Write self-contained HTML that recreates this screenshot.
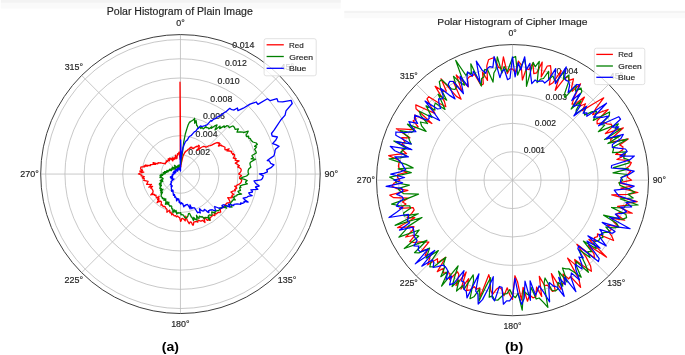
<!DOCTYPE html>
<html><head><meta charset="utf-8"><style>
html,body{margin:0;padding:0;background:#fff;}
svg{display:block;font-family:"Liberation Sans",sans-serif;filter:blur(0.3px);}
text{stroke:#262626;stroke-width:0.18px;}
text[font-weight="bold"]{stroke:none;}
</style></head><body>
<svg width="685" height="355" viewBox="0 0 685 355">
<defs><linearGradient id="g1" x1="0" y1="0" x2="0" y2="1"><stop offset="0" stop-color="#f0f0f0"/><stop offset="1" stop-color="#fdfdfd"/></linearGradient></defs>
<rect x="0.8" y="0" width="340" height="2.9" fill="#f3f3f3"/><rect x="0.8" y="2.9" width="340" height="5.6" fill="#fafafa"/>
<rect x="344.3" y="10.8" width="341" height="2.2" fill="#f3f3f3"/><rect x="344.3" y="13" width="341" height="5.3" fill="#fafafa"/>
<ellipse cx="180.45" cy="174.05" rx="19.25" ry="19.21" fill="none" stroke="#bababa" stroke-width="0.8"/>
<ellipse cx="180.45" cy="174.05" rx="38.50" ry="38.42" fill="none" stroke="#bababa" stroke-width="0.8"/>
<ellipse cx="180.45" cy="174.05" rx="57.75" ry="57.63" fill="none" stroke="#bababa" stroke-width="0.8"/>
<ellipse cx="180.45" cy="174.05" rx="77.00" ry="76.85" fill="none" stroke="#bababa" stroke-width="0.8"/>
<ellipse cx="180.45" cy="174.05" rx="96.25" ry="96.06" fill="none" stroke="#bababa" stroke-width="0.8"/>
<ellipse cx="180.45" cy="174.05" rx="115.50" ry="115.27" fill="none" stroke="#bababa" stroke-width="0.8"/>
<ellipse cx="180.45" cy="174.05" rx="134.75" ry="134.48" fill="none" stroke="#bababa" stroke-width="0.8"/>
<line x1="180.45" y1="174.05" x2="180.45" y2="34.58" stroke="#bababa" stroke-width="0.8"/>
<line x1="180.45" y1="174.05" x2="279.27" y2="75.43" stroke="#bababa" stroke-width="0.8"/>
<line x1="180.45" y1="174.05" x2="320.20" y2="174.05" stroke="#bababa" stroke-width="0.8"/>
<line x1="180.45" y1="174.05" x2="279.27" y2="272.67" stroke="#bababa" stroke-width="0.8"/>
<line x1="180.45" y1="174.05" x2="180.45" y2="313.52" stroke="#bababa" stroke-width="0.8"/>
<line x1="180.45" y1="174.05" x2="81.63" y2="272.67" stroke="#bababa" stroke-width="0.8"/>
<line x1="180.45" y1="174.05" x2="40.70" y2="174.05" stroke="#bababa" stroke-width="0.8"/>
<line x1="180.45" y1="174.05" x2="81.63" y2="75.43" stroke="#bababa" stroke-width="0.8"/>
<text x="176.30" y="26.09" font-size="8.50" font-weight="normal" fill="#262626" textLength="8.49" lengthAdjust="spacingAndGlyphs">0&#176;</text>
<text x="280.60" y="70.20" font-size="8.50" font-weight="normal" fill="#262626" textLength="13.44" lengthAdjust="spacingAndGlyphs">45&#176;</text>
<text x="324.64" y="176.69" font-size="8.50" font-weight="normal" fill="#262626" textLength="13.55" lengthAdjust="spacingAndGlyphs">90&#176;</text>
<text x="277.88" y="283.18" font-size="8.50" font-weight="normal" fill="#262626" textLength="18.41" lengthAdjust="spacingAndGlyphs">135&#176;</text>
<text x="171.17" y="327.29" font-size="8.50" font-weight="normal" fill="#262626" textLength="18.41" lengthAdjust="spacingAndGlyphs">180&#176;</text>
<text x="64.56" y="283.18" font-size="8.50" font-weight="normal" fill="#262626" textLength="18.47" lengthAdjust="spacingAndGlyphs">225&#176;</text>
<text x="20.36" y="176.69" font-size="8.50" font-weight="normal" fill="#262626" textLength="18.47" lengthAdjust="spacingAndGlyphs">270&#176;</text>
<text x="64.68" y="70.20" font-size="8.50" font-weight="normal" fill="#262626" textLength="18.33" lengthAdjust="spacingAndGlyphs">315&#176;</text>
<text x="188.18" y="154.90" font-size="8.50" font-weight="normal" fill="#262626" textLength="21.83" lengthAdjust="spacingAndGlyphs">0.002</text>
<text x="195.54" y="137.15" font-size="8.50" font-weight="normal" fill="#262626" textLength="22.00" lengthAdjust="spacingAndGlyphs">0.004</text>
<text x="202.91" y="119.40" font-size="8.50" font-weight="normal" fill="#262626" textLength="22.07" lengthAdjust="spacingAndGlyphs">0.006</text>
<text x="210.27" y="101.65" font-size="8.50" font-weight="normal" fill="#262626" textLength="22.02" lengthAdjust="spacingAndGlyphs">0.008</text>
<text x="217.64" y="83.90" font-size="8.50" font-weight="normal" fill="#262626" textLength="21.99" lengthAdjust="spacingAndGlyphs">0.010</text>
<text x="225.01" y="66.16" font-size="8.50" font-weight="normal" fill="#262626" textLength="21.83" lengthAdjust="spacingAndGlyphs">0.012</text>
<text x="232.37" y="48.41" font-size="8.50" font-weight="normal" fill="#262626" textLength="22.00" lengthAdjust="spacingAndGlyphs">0.014</text>
<polyline points="180.3,160.0 180.0,82.2 180.8,167.0 181.1,164.3 181.4,162.7 181.8,161.4 182.7,157.3 183.4,155.0 183.9,153.9 184.0,154.1 185.0,152.0 185.3,152.1 185.7,151.4 186.4,150.9 187.1,150.7 188.1,149.3 188.7,149.2 189.9,148.0 190.5,147.3 190.6,148.0 191.8,147.1 192.0,148.1 192.7,148.4 193.3,148.0 193.4,148.6 194.8,147.4 196.2,146.5 196.5,146.3 196.9,146.9 198.8,145.3 199.3,146.0 199.0,147.3 197.2,150.4 198.7,149.5 201.1,147.5 203.2,146.5 204.3,146.5 205.3,146.7 206.0,147.3 208.8,145.8 210.3,145.7 211.6,145.1 214.4,143.7 217.1,142.5 217.3,143.0 219.0,142.5 218.9,144.1 220.1,143.7 218.4,146.0 221.5,145.2 221.5,145.8 222.5,146.0 223.6,146.5 225.0,147.3 224.9,148.9 225.0,149.6 225.6,149.9 229.2,148.8 226.9,150.9 229.3,151.0 231.8,151.3 231.3,153.0 233.4,153.6 232.6,154.7 234.6,154.7 234.3,156.4 233.2,158.0 236.1,158.6 235.1,159.8 235.2,160.3 237.7,160.6 239.1,160.9 235.3,163.1 236.8,164.0 238.8,165.4 239.4,165.7 237.7,167.0 240.1,168.1 241.1,169.1 241.1,169.5 241.1,171.0 240.2,172.5 238.7,174.0 241.5,175.5 241.3,175.9 239.8,176.9 239.6,178.5 241.7,180.0 241.3,181.8 240.7,182.9 238.8,184.4 237.0,185.2 236.3,186.1 234.7,186.2 236.8,188.1 235.3,189.1 234.6,189.4 235.4,190.6 232.9,191.1 230.9,192.0 233.7,194.5 231.9,195.3 232.8,197.2 231.2,197.0 231.2,197.9 227.7,197.7 229.5,200.4 230.1,202.0 228.8,202.9 227.0,203.0 225.8,204.2 225.5,205.6 224.5,205.5 224.4,206.5 223.8,207.7 221.9,207.2 221.9,207.9 220.8,208.6 220.2,209.7 220.7,212.2 218.5,212.3 217.5,212.8 216.6,213.8 213.9,212.6 215.1,214.8 214.7,215.6 212.5,214.9 211.8,216.5 210.9,217.0 210.0,218.0 210.0,220.4 208.4,219.0 208.3,220.2 207.3,220.3 206.0,218.9 203.8,217.5 204.3,219.5 205.0,222.5 202.5,220.3 201.2,221.1 200.1,221.0 198.4,220.1 198.1,220.3 197.8,222.1 196.2,221.3 195.0,221.9 193.8,221.8 193.4,225.0 192.6,225.0 191.5,222.4 190.3,221.9 189.2,223.7 187.2,220.3 185.8,216.2 185.2,220.8 184.1,219.5 182.8,218.5 181.7,218.7 181.0,221.1 180.6,221.4 179.5,217.3 178.7,217.2 177.5,216.1 176.4,216.9 175.6,215.7 174.4,215.9 173.5,215.1 172.7,213.8 171.7,214.9 171.6,214.2 171.0,212.3 169.9,212.8 169.6,210.2 168.6,211.0 166.9,212.2 167.0,209.4 166.3,208.6 165.5,207.9 165.1,206.7 164.3,206.4 163.2,206.5 162.6,205.7 162.4,204.8 160.9,205.1 161.4,202.7 161.2,201.5 160.5,201.1 159.3,201.7 159.5,201.0 157.1,202.6 159.2,198.8 157.5,199.5 159.2,196.5 156.7,197.9 156.2,197.1 156.0,196.3 156.0,195.2 154.7,195.3 154.5,194.3 152.8,194.7 153.1,194.0 150.8,195.0 152.8,192.6 153.1,191.5 152.9,190.6 152.6,189.9 152.3,189.3 151.7,188.7 150.8,188.1 152.6,186.4 148.8,187.2 149.6,186.5 150.5,185.6 151.5,184.4 150.0,184.7 148.9,184.4 146.6,184.3 147.3,183.2 147.5,182.3 148.1,181.3 146.1,180.9 143.7,180.4 144.0,179.5 144.3,178.5 142.6,178.1 142.3,177.8 144.3,176.7 141.2,175.9 141.2,175.3 141.7,175.0 138.4,174.0 139.7,173.2 143.8,172.2 139.7,171.1 142.6,170.3 140.5,169.0 140.8,168.1 140.8,167.1 141.9,166.8 144.7,166.8 144.0,165.8 147.5,166.1 145.3,165.1 150.5,165.7 150.3,164.7 152.3,164.6 153.1,164.0 155.6,164.4 153.1,162.6 157.8,163.9 157.5,163.3 158.1,163.4 158.1,162.7 160.2,163.1 160.2,162.6 162.7,163.3 163.7,163.3 165.4,163.8 165.2,163.2 165.6,162.8 165.8,162.6 166.2,162.7 166.1,162.1 166.7,162.0 166.2,160.9 167.4,161.4 167.6,161.0 167.9,160.5 168.5,160.6 169.3,160.9 168.2,158.9 169.7,160.0 169.6,159.2 169.3,158.4 169.4,158.2 170.1,158.3 171.3,159.4 171.4,159.1 172.7,160.9 171.8,158.4 172.3,158.4 173.5,159.9 172.8,157.6 173.9,158.9 174.5,159.2 174.2,158.1 174.3,157.8 174.8,157.8 175.0,157.2 176.0,158.9 175.4,155.1 176.4,157.4 177.0,158.2 177.1,156.3 177.4,155.3 177.4,154.3 177.6,153.7 178.2,154.2 178.5,153.5 179.1,152.1 179.7,156.5 180.3,160.0" fill="none" stroke="red" stroke-width="1.30" stroke-linejoin="round"/>
<polyline points="180.6,165.0 180.9,163.0 181.3,160.0 181.9,156.0 182.8,150.1 183.7,142.2 185.3,134.0 187.0,128.4 188.1,125.0 189.6,122.0 190.5,121.9 191.1,121.1 192.6,120.5 194.0,119.1 194.6,118.3 194.7,123.3 196.1,120.5 196.3,122.2 196.7,125.4 197.5,126.1 198.2,128.2 200.1,127.0 200.8,128.5 201.8,127.5 202.4,127.9 203.2,128.9 206.0,126.5 206.0,127.5 206.9,127.6 208.2,127.9 208.8,128.9 211.6,126.8 211.1,128.4 214.3,126.2 217.0,124.9 215.8,128.1 215.0,129.9 220.1,126.1 219.7,128.6 224.2,125.9 224.3,127.5 227.0,125.6 228.4,126.0 229.2,127.7 232.6,126.0 233.3,126.2 234.5,127.5 235.1,129.4 238.4,128.9 237.7,130.2 237.0,132.2 240.3,131.9 243.2,132.2 243.5,132.7 248.2,131.2 247.0,133.6 246.0,134.8 246.5,136.7 248.7,136.1 248.4,137.8 250.4,138.7 251.3,140.6 252.9,142.0 256.3,143.0 257.3,144.4 254.6,146.3 256.6,146.8 254.6,149.5 255.8,151.2 256.3,153.0 252.0,155.5 252.0,156.1 253.3,157.7 251.2,158.9 255.5,159.1 250.4,162.3 249.9,163.7 250.4,165.7 250.9,167.1 248.7,169.1 248.1,170.7 248.1,172.5 248.7,174.0 246.6,176.0 243.0,177.1 240.5,178.4 244.7,179.3 247.2,180.6 245.6,182.0 245.6,182.7 247.3,183.9 242.8,184.8 242.2,185.2 240.0,185.8 240.9,187.5 239.6,187.7 239.9,188.9 240.5,190.3 238.0,191.4 238.8,192.8 241.6,194.1 237.1,194.6 236.9,195.7 234.6,196.4 234.6,197.0 233.2,197.3 235.3,199.9 233.7,199.5 232.8,200.3 232.0,201.3 230.9,202.5 230.4,203.8 231.8,206.4 232.0,207.2 228.7,206.3 225.3,205.5 225.2,206.3 226.6,208.1 222.4,206.6 221.9,208.0 219.9,207.9 219.6,209.4 218.9,210.4 218.5,210.6 217.2,210.6 215.9,211.1 214.9,211.8 215.1,213.1 213.7,212.3 211.7,212.0 212.0,214.3 211.8,214.8 211.3,215.4 209.7,214.9 208.4,215.5 209.9,220.2 207.4,217.2 206.8,217.7 205.0,217.3 204.3,218.8 202.0,216.5 201.2,217.2 199.3,216.2 199.0,218.4 198.1,218.0 196.5,215.3 197.1,220.1 195.5,219.0 195.0,219.5 193.8,217.4 193.4,220.4 191.9,217.2 191.4,217.1 189.5,213.3 188.5,213.7 187.9,216.1 187.2,217.2 186.0,218.0 184.9,217.8 184.1,216.4 183.6,215.2 182.6,214.9 181.6,214.4 181.0,214.9 180.6,212.6 179.6,213.0 178.7,213.1 177.9,212.6 176.7,214.1 176.1,210.5 175.0,212.0 174.8,211.0 174.4,209.9 172.9,212.8 172.8,208.9 171.9,208.9 171.7,207.9 171.7,206.2 171.0,205.8 169.9,206.5 169.5,205.1 168.6,204.8 168.9,202.2 167.1,204.4 167.5,201.8 165.4,204.3 166.1,201.1 165.5,200.9 165.8,198.8 163.9,200.4 164.2,198.5 163.3,198.5 162.4,198.6 162.4,197.3 161.7,197.0 161.2,196.5 161.1,195.5 161.6,194.0 162.5,192.1 160.9,192.9 161.1,191.7 163.0,189.2 160.4,190.6 161.2,189.0 161.3,188.3 159.9,188.6 160.0,187.8 160.3,186.9 161.4,185.5 159.9,185.7 160.2,185.0 161.2,183.8 159.3,184.1 160.0,183.1 162.9,181.3 160.9,181.6 162.6,180.5 160.2,180.7 161.6,180.0 160.8,180.0 163.1,178.9 163.0,178.4 162.3,178.1 162.2,177.7 159.9,177.6 160.4,177.0 161.3,176.4 160.0,176.0 162.7,175.3 160.2,175.3 160.5,175.0 161.6,174.6 161.1,174.5 164.1,174.0 164.4,173.9 165.3,173.6 164.3,173.2 163.1,172.7 165.2,172.5 166.8,172.3 164.5,171.6 168.2,171.8 166.6,171.2 167.7,171.1 166.8,170.5 169.0,170.8 168.6,170.4 168.8,170.1 171.1,170.6 171.7,170.6 170.7,169.9 169.8,169.2 171.4,169.6 171.5,169.4 172.0,169.4 171.5,168.8 172.0,168.8 172.3,168.8 173.5,169.2 172.2,168.1 172.3,167.8 174.3,169.1 172.2,167.1 173.5,167.9 174.5,168.5 174.3,168.2 175.5,169.2 174.2,167.6 174.4,167.5 175.3,168.1 176.1,168.8 174.7,166.8 175.8,167.8 175.9,167.6 174.5,165.3 175.1,165.7 175.8,166.4 176.6,167.3 176.3,166.5 177.7,168.5 177.0,166.8 177.1,166.8 177.4,167.3 177.8,167.6 178.0,167.7 177.5,166.0 177.8,166.2 178.0,166.1 178.0,165.4 178.6,166.7 178.8,166.9 179.1,167.3 179.0,166.0 179.0,165.0 179.4,165.7 179.5,165.0 179.9,166.4 179.9,165.4 180.0,165.8 180.2,165.9 180.4,166.2" fill="none" stroke="green" stroke-width="1.30" stroke-linejoin="round"/>
<polyline points="180.5,171.0 180.6,140.0 181.0,158.8 181.6,154.1 182.3,151.1 183.0,147.5 183.2,147.3 184.2,144.5 185.3,141.9 186.4,140.6 187.4,139.9 188.7,137.4 190.1,136.0 190.9,135.7 191.2,135.5 192.8,133.6 194.3,131.8 195.9,131.2 197.7,128.4 198.1,128.5 200.5,125.9 201.0,126.1 201.7,126.4 203.2,126.1 204.9,125.7 206.9,124.8 207.4,124.7 211.0,120.4 211.6,121.2 213.4,119.4 215.8,118.4 217.3,117.0 219.2,116.2 221.5,114.9 223.6,113.0 225.7,111.9 229.8,108.3 231.1,109.3 233.2,110.0 234.2,109.9 237.5,108.0 237.9,110.7 241.2,109.2 243.3,108.2 250.0,104.1 254.5,102.6 256.2,102.0 257.9,104.4 267.4,98.8 270.2,100.7 277.0,98.7 278.1,101.7 282.6,101.8 291.1,100.3 292.2,103.5 286.0,110.8 285.1,115.1 280.8,120.0 277.4,125.1 274.1,130.2 271.5,133.5 272.2,136.0 277.4,137.0 275.7,140.3 274.0,142.0 272.6,143.6 275.7,144.6 279.1,146.3 275.7,148.9 275.0,150.4 274.9,152.2 274.0,155.7 270.6,158.1 267.3,160.6 269.3,160.8 270.6,163.3 274.0,164.8 271.5,167.3 266.7,169.8 267.3,170.8 267.4,171.9 263.9,173.3 259.5,174.0 263.3,175.9 262.5,178.4 260.7,179.9 254.0,180.9 255.7,183.5 259.0,185.6 259.1,186.1 255.5,187.0 255.7,187.6 257.8,189.3 250.8,189.8 252.3,191.1 252.5,192.0 248.7,192.8 249.8,194.5 252.1,195.7 248.0,196.3 247.4,197.0 246.3,197.5 243.1,198.1 245.6,200.4 248.1,202.1 243.9,201.3 244.4,202.3 242.5,203.3 240.6,203.0 240.9,204.3 237.1,203.8 234.0,204.3 233.7,205.5 230.3,204.6 228.4,204.2 230.1,207.1 227.0,206.2 224.2,204.7 222.6,205.1 221.9,205.5 223.6,207.2 221.8,207.8 220.6,208.5 218.5,208.0 214.7,206.5 215.1,208.9 215.5,210.6 213.6,210.4 211.8,209.7 211.7,210.0 209.9,209.8 209.4,210.8 208.4,210.6 208.5,211.6 208.9,212.7 207.3,211.9 205.8,210.2 204.3,209.4 204.0,210.9 202.7,211.0 201.2,210.3 199.6,208.7 199.5,209.3 200.3,213.0 198.7,212.2 197.8,212.8 196.5,211.0 194.7,208.0 193.6,207.8 192.6,207.6 191.9,208.7 190.0,204.9 190.2,208.8 188.8,206.4 187.4,204.4 186.7,204.6 185.9,204.6 185.7,205.6 185.2,205.3 184.5,205.6 183.8,206.9 182.6,203.3 182.1,203.9 181.3,202.6 180.6,204.1 179.9,202.2 179.5,200.9 179.2,202.5 178.8,199.0 178.1,199.7 177.6,198.5 176.6,200.9 176.4,198.6 175.9,197.6 175.5,196.8 174.8,197.3 174.7,195.3 174.4,194.4 173.5,195.4 173.3,194.0 173.2,193.2 173.0,192.3 173.1,191.0 172.9,190.2 171.8,191.4 171.5,191.1 171.8,189.6 171.7,189.3 171.4,189.3 171.4,188.5 171.3,187.9 171.4,187.3 172.3,185.9 171.5,186.3 171.0,186.3 171.4,185.2 171.1,185.0 171.3,184.3 170.7,184.4 170.3,184.3 171.4,182.8 171.4,182.3 171.0,182.3 171.4,181.5 171.0,181.5 174.0,178.9 172.8,179.5 173.1,179.0 172.6,179.1 172.0,179.2 171.7,179.0 171.6,178.8 172.3,178.2 171.1,178.5 172.5,177.6 172.3,177.4 171.6,177.5 172.6,176.9 170.4,177.4 172.1,176.7 171.3,176.8 170.4,176.8 172.3,176.1 172.6,175.8 172.3,175.7 171.9,175.5 173.0,175.1 172.3,175.0 172.7,174.8 172.8,174.6 173.5,174.3 172.3,174.2 173.8,174.0 174.3,173.8 174.2,173.7 174.8,173.6 173.9,173.3 174.3,173.2 174.2,173.0 173.8,172.8 173.1,172.5 174.2,172.6 174.3,172.4 174.7,172.4 175.7,172.5 174.0,171.8 175.9,172.3 174.2,171.5 174.8,171.6 174.0,171.1 174.9,171.3 175.5,171.4 175.0,171.1 174.8,170.9 175.5,171.1 175.4,170.9 175.4,170.7 175.6,170.7 175.7,170.6 176.2,170.8 176.0,170.4 177.2,171.2 176.2,170.2 176.9,170.6 175.8,169.4 175.9,169.3 177.6,170.9 176.7,169.7 177.0,169.8 177.5,170.2 177.1,169.6 176.9,169.3 177.4,169.7 178.1,170.4 177.5,169.4 177.6,169.2 177.6,168.9 178.1,169.7 177.6,168.4 177.7,168.2 178.4,169.3 178.3,168.9 178.3,168.4 178.5,168.6 178.5,168.2 178.7,168.2 179.2,169.3 179.3,169.3 179.3,169.0 179.2,167.6 179.7,169.5 179.8,169.6 179.9,169.5 180.1,170.2 180.1,169.0 180.4,171.0 180.5,171.0 180.1,155.4" fill="none" stroke="blue" stroke-width="1.30" stroke-linejoin="round"/>
<ellipse cx="180.45" cy="174.05" rx="139.75" ry="139.47" fill="none" stroke="#3c3c3c" stroke-width="1.0"/>
<rect x="264.1" y="38.7" width="52.1" height="37.1" rx="2" ry="2" fill="#fff" fill-opacity="0.8" stroke="#d9d9d9" stroke-width="0.8"/>
<line x1="266.6" y1="44.8" x2="283.8" y2="44.8" stroke="red" stroke-width="1.3"/>
<text x="289.04" y="47.80" font-size="8.05" font-weight="normal" fill="#262626" textLength="14.69" lengthAdjust="spacingAndGlyphs">Red</text>
<line x1="266.6" y1="56.5" x2="283.8" y2="56.5" stroke="green" stroke-width="1.3"/>
<text x="289.27" y="59.50" font-size="8.05" font-weight="normal" fill="#262626" textLength="23.79" lengthAdjust="spacingAndGlyphs">Green</text>
<line x1="266.6" y1="68.3" x2="283.8" y2="68.3" stroke="blue" stroke-width="1.3"/>
<text x="288.99" y="71.30" font-size="8.05" font-weight="normal" fill="#262626" textLength="17.40" lengthAdjust="spacingAndGlyphs">Blue</text>
<text x="106.84" y="14.50" font-size="10.00" font-weight="normal" fill="#262626" textLength="145.93" lengthAdjust="spacingAndGlyphs">Polar Histogram of Plain Image</text>
<text x="161.81" y="350.60" font-size="13.20" font-weight="bold" fill="#000" textLength="17.18" lengthAdjust="spacingAndGlyphs">(a)</text>
<ellipse cx="512.54" cy="180.15" rx="28.50" ry="28.41" fill="none" stroke="#bababa" stroke-width="0.8"/>
<ellipse cx="512.54" cy="180.15" rx="57.00" ry="56.83" fill="none" stroke="#bababa" stroke-width="0.8"/>
<ellipse cx="512.54" cy="180.15" rx="85.50" ry="85.24" fill="none" stroke="#bababa" stroke-width="0.8"/>
<ellipse cx="512.54" cy="180.15" rx="114.00" ry="113.66" fill="none" stroke="#bababa" stroke-width="0.8"/>
<line x1="512.54" y1="180.15" x2="512.54" y2="44.56" stroke="#bababa" stroke-width="0.8"/>
<line x1="512.54" y1="180.15" x2="608.71" y2="84.27" stroke="#bababa" stroke-width="0.8"/>
<line x1="512.54" y1="180.15" x2="648.54" y2="180.15" stroke="#bababa" stroke-width="0.8"/>
<line x1="512.54" y1="180.15" x2="608.71" y2="276.03" stroke="#bababa" stroke-width="0.8"/>
<line x1="512.54" y1="180.15" x2="512.54" y2="315.74" stroke="#bababa" stroke-width="0.8"/>
<line x1="512.54" y1="180.15" x2="416.37" y2="276.03" stroke="#bababa" stroke-width="0.8"/>
<line x1="512.54" y1="180.15" x2="376.54" y2="180.15" stroke="#bababa" stroke-width="0.8"/>
<line x1="512.54" y1="180.15" x2="416.37" y2="84.27" stroke="#bababa" stroke-width="0.8"/>
<text x="508.49" y="36.46" font-size="8.30" font-weight="normal" fill="#262626" textLength="8.28" lengthAdjust="spacingAndGlyphs">0&#176;</text>
<text x="609.89" y="79.30" font-size="8.30" font-weight="normal" fill="#262626" textLength="13.09" lengthAdjust="spacingAndGlyphs">45&#176;</text>
<text x="652.70" y="182.72" font-size="8.30" font-weight="normal" fill="#262626" textLength="13.20" lengthAdjust="spacingAndGlyphs">90&#176;</text>
<text x="607.23" y="286.14" font-size="8.30" font-weight="normal" fill="#262626" textLength="17.94" lengthAdjust="spacingAndGlyphs">135&#176;</text>
<text x="503.50" y="328.98" font-size="8.30" font-weight="normal" fill="#262626" textLength="17.94" lengthAdjust="spacingAndGlyphs">180&#176;</text>
<text x="399.86" y="286.14" font-size="8.30" font-weight="normal" fill="#262626" textLength="17.99" lengthAdjust="spacingAndGlyphs">225&#176;</text>
<text x="356.89" y="182.72" font-size="8.30" font-weight="normal" fill="#262626" textLength="17.99" lengthAdjust="spacingAndGlyphs">270&#176;</text>
<text x="399.97" y="79.30" font-size="8.30" font-weight="normal" fill="#262626" textLength="17.86" lengthAdjust="spacingAndGlyphs">315&#176;</text>
<text x="523.81" y="152.50" font-size="8.30" font-weight="normal" fill="#262626" textLength="21.31" lengthAdjust="spacingAndGlyphs">0.001</text>
<text x="534.72" y="126.25" font-size="8.30" font-weight="normal" fill="#262626" textLength="21.27" lengthAdjust="spacingAndGlyphs">0.002</text>
<text x="545.63" y="100.00" font-size="8.30" font-weight="normal" fill="#262626" textLength="21.37" lengthAdjust="spacingAndGlyphs">0.003</text>
<text x="556.53" y="73.74" font-size="8.30" font-weight="normal" fill="#262626" textLength="21.43" lengthAdjust="spacingAndGlyphs">0.004</text>
<polyline points="512.5,68.8 515.2,72.3 518.4,61.1 521.1,64.7 522.4,80.0 526.3,68.7 529.0,69.6 532.9,63.1 533.8,73.6 536.7,72.9 542.2,62.1 541.2,76.9 547.3,66.0 550.5,65.6 551.2,72.3 549.3,85.1 553.0,82.7 561.2,70.7 555.2,90.3 562.9,80.3 568.2,76.3 569.2,80.4 573.5,78.8 571.7,87.0 572.1,91.3 580.6,83.8 574.4,97.1 572.0,104.1 575.2,104.1 584.4,97.1 579.7,106.2 585.5,103.7 582.3,110.6 592.2,104.5 603.7,97.8 595.9,108.4 592.7,114.6 599.3,112.6 608.1,109.5 597.1,120.7 597.1,123.8 604.0,122.4 606.8,123.8 611.3,124.4 612.0,127.1 605.3,133.6 623.4,127.9 616.2,134.3 610.5,139.7 611.4,142.1 628.2,138.9 619.6,144.9 622.9,146.8 622.8,149.7 615.6,154.4 625.5,154.9 616.9,159.5 626.8,160.4 631.3,162.6 629.7,165.7 625.6,169.0 630.7,171.5 627.5,174.5 627.5,177.3 631.6,180.2 618.9,182.8 632.4,186.0 620.9,188.1 637.9,192.5 628.3,194.4 611.7,194.8 637.2,201.7 628.1,203.1 625.3,205.4 617.6,206.4 632.3,213.2 619.5,212.5 616.0,214.2 624.7,220.2 611.9,218.4 613.6,221.9 619.0,227.2 607.4,224.9 611.3,229.7 608.4,231.2 611.8,236.2 613.6,240.5 597.5,233.8 597.5,236.7 594.4,237.6 595.0,241.1 588.9,239.5 606.6,257.1 588.3,245.3 594.0,253.8 594.4,257.9 576.9,244.3 586.1,257.1 590.6,266.0 591.4,271.3 582.7,265.4 574.7,259.5 576.0,265.4 567.6,258.1 578.8,279.0 580.6,287.4 570.5,276.5 568.6,278.8 562.9,274.1 564.9,283.8 561.6,283.7 561.1,289.3 551.4,273.6 555.2,290.4 552.4,291.3 547.4,285.2 544.7,285.7 539.3,276.4 541.7,296.4 536.6,287.1 535.8,296.9 533.0,297.8 529.6,294.9 527.5,301.2 523.1,287.3 521.4,300.0 517.5,281.7 514.9,275.7 512.5,299.4 509.7,294.6 507.2,287.8 504.0,295.7 501.8,289.3 499.3,287.3 496.3,289.3 492.6,294.5 490.6,290.1 490.1,279.7 488.8,274.7 480.1,297.0 479.8,287.8 476.3,289.4 474.3,286.7 470.1,289.8 466.6,290.7 468.7,278.6 460.9,289.1 466.2,272.0 456.0,285.6 458.9,274.6 457.5,271.7 449.5,279.5 450.0,273.5 447.4,272.4 443.3,273.2 443.6,268.3 437.3,271.6 445.8,257.3 437.5,262.7 437.5,258.7 427.7,264.8 429.5,258.9 430.3,254.5 425.1,255.4 427.8,249.5 421.6,250.9 428.8,242.1 424.7,241.8 419.8,241.9 413.7,242.5 409.7,241.6 415.4,235.0 405.8,237.0 412.6,230.3 413.9,226.7 406.3,227.1 397.5,227.7 414.9,217.7 407.0,217.8 411.7,213.4 414.2,209.9 413.1,207.6 399.5,208.4 406.0,204.0 402.4,202.0 408.0,198.2 393.7,197.7 389.8,195.2 407.9,190.4 397.0,188.7 391.8,186.1 394.3,183.0 399.8,180.2 397.5,177.3 397.7,174.5 407.0,172.4 399.3,169.0 398.4,166.1 398.9,163.3 399.9,160.7 388.7,155.6 397.1,154.3 406.6,153.7 402.0,149.7 406.4,148.0 402.1,143.8 404.8,141.7 401.8,137.6 409.9,137.8 396.3,128.8 404.4,129.2 411.9,129.7 414.5,127.9 418.2,126.9 413.2,120.8 415.9,119.1 414.7,115.0 431.9,123.5 416.0,108.8 415.8,104.9 426.1,109.5 434.9,113.4 430.8,106.3 427.0,98.9 428.8,96.7 438.8,103.0 445.8,106.7 444.4,101.4 435.2,86.3 443.1,91.4 446.3,91.1 441.0,78.8 456.4,96.4 461.1,99.2 453.1,81.2 462.3,91.7 456.2,75.0 462.4,80.9 468.3,86.9 467.5,78.9 469.5,76.6 472.2,75.9 474.5,74.3 481.1,85.4 483.3,83.9 482.5,72.0 487.5,80.4 486.8,65.9 488.5,59.8 491.4,58.5 494.3,57.6 498.6,67.4 501.6,69.0 503.4,56.9 507.3,73.5 509.8,69.1 512.5,68.8" fill="none" stroke="red" stroke-width="1.25" stroke-linejoin="round"/>
<polyline points="512.5,57.9 515.6,56.5 517.7,75.1 521.0,66.4 524.5,59.1 526.3,69.2 526.5,86.3 533.1,62.3 535.2,66.8 539.3,61.4 537.1,82.6 540.6,79.1 543.5,78.5 548.6,71.3 548.6,79.6 552.9,75.9 554.3,79.6 556.2,81.9 564.0,71.7 563.5,79.3 569.0,74.9 568.7,81.4 564.7,93.4 564.9,97.6 576.2,85.2 575.5,91.1 581.0,88.1 581.8,91.7 571.1,109.0 581.2,100.8 576.2,110.1 576.0,113.7 585.9,107.0 584.1,112.3 584.7,115.0 592.2,111.6 596.6,111.4 595.1,116.0 593.3,120.4 609.6,112.0 609.2,115.7 600.7,124.5 604.7,125.1 598.4,131.7 618.3,123.8 615.2,128.6 621.0,129.0 604.5,139.5 620.4,135.6 607.9,143.5 627.4,139.2 613.3,147.0 613.4,149.7 612.5,152.6 626.2,151.8 624.2,155.2 623.7,158.1 629.2,160.0 629.2,162.9 613.5,167.7 628.6,168.8 613.0,172.8 627.6,174.5 620.8,177.5 622.6,180.2 619.1,182.8 620.0,185.4 628.1,188.6 634.9,192.2 627.9,194.3 633.2,198.0 620.2,198.8 638.1,205.0 625.5,205.5 623.9,208.0 611.6,207.5 625.9,214.4 626.6,217.7 622.3,219.3 603.6,215.2 616.3,223.0 618.8,227.1 613.6,227.8 605.9,227.0 610.4,232.3 604.8,232.3 601.5,233.3 603.0,237.3 599.8,238.3 598.7,240.7 595.2,241.3 593.8,243.4 596.3,248.7 583.4,241.1 591.7,251.7 587.8,251.6 590.0,257.4 579.0,249.7 581.2,255.7 585.3,264.2 588.4,272.3 576.2,261.5 576.1,265.6 581.2,277.3 574.3,272.3 568.9,268.9 565.9,268.8 562.5,268.0 567.2,282.0 558.5,271.2 562.8,286.2 557.9,282.3 557.8,289.1 555.4,291.0 552.2,290.5 545.0,278.0 544.0,283.5 547.9,307.4 543.2,302.1 539.1,298.0 536.2,299.0 531.2,287.6 529.7,295.4 526.6,293.9 523.4,290.5 522.2,310.2 518.1,293.3 515.4,297.7 512.5,295.1 509.8,289.6 506.9,293.7 504.1,294.1 501.0,297.0 497.7,300.2 494.7,300.0 492.4,295.9 489.2,297.2 490.6,277.7 485.7,286.9 478.9,301.3 479.5,288.8 473.9,296.8 470.0,298.7 473.6,280.9 473.2,274.9 464.0,289.3 462.5,285.7 456.5,291.1 459.0,280.0 452.1,286.5 454.8,276.3 458.1,265.9 441.6,286.1 448.2,271.2 440.8,276.7 444.8,266.7 443.6,263.9 445.8,257.3 433.9,266.7 429.8,266.8 431.1,261.3 438.3,250.6 426.2,258.1 428.0,252.9 429.6,248.0 419.0,252.9 414.5,252.7 426.9,240.3 416.6,244.1 404.3,248.5 418.7,236.2 415.2,235.1 419.1,230.0 398.9,237.2 404.5,231.1 408.5,226.1 422.0,217.5 395.1,225.3 418.3,213.8 404.1,215.9 403.6,213.1 410.5,208.3 409.7,205.8 399.1,205.5 391.6,204.1 407.9,198.3 418.5,194.1 403.4,193.6 400.4,191.2 397.9,188.6 409.4,185.2 396.2,183.0 395.6,180.2 389.7,177.1 402.2,174.7 411.3,172.7 398.2,168.9 413.1,167.9 406.1,164.4 389.1,158.8 400.2,157.9 407.1,156.5 400.6,152.2 403.3,150.0 406.5,148.1 393.8,141.0 411.1,144.0 409.5,140.5 408.6,137.2 400.5,130.6 411.5,132.5 414.1,130.7 407.5,124.2 426.1,131.4 421.6,125.8 420.4,122.0 427.5,123.5 421.0,115.9 419.3,111.2 432.0,117.5 429.3,112.1 426.1,105.8 435.0,110.1 434.3,105.9 435.3,103.1 445.0,109.4 442.0,102.5 438.2,94.2 446.7,100.2 440.5,88.1 439.3,81.7 441.5,79.6 451.3,88.8 455.0,89.5 456.5,86.9 453.5,76.3 460.2,82.6 464.6,85.2 455.7,60.4 466.0,75.5 467.8,72.4 471.4,73.7 470.8,63.8 481.4,86.1 481.6,78.6 483.9,76.9 484.7,69.5 487.7,69.9 493.0,82.1 493.9,73.0 496.0,69.2 497.3,56.8 502.0,73.0 504.1,66.6 507.2,71.8 509.7,65.2 512.5,57.9" fill="none" stroke="green" stroke-width="1.25" stroke-linejoin="round"/>
<polyline points="512.5,56.5 515.1,76.8 518.3,62.7 520.7,69.8 524.7,56.8 526.2,70.1 529.9,63.4 530.7,75.5 531.8,83.6 535.1,80.0 537.3,81.5 540.0,81.2 542.7,80.9 544.7,83.0 548.4,80.1 555.7,68.6 554.9,78.1 555.4,83.7 566.3,66.9 564.6,77.1 566.0,80.4 568.7,81.3 569.6,85.3 568.1,92.6 576.7,84.5 579.9,84.8 571.8,100.6 580.3,93.6 573.3,106.3 577.6,105.0 580.5,105.3 573.9,115.9 586.6,106.3 583.1,113.2 587.0,112.9 586.8,116.3 606.5,103.2 593.5,117.2 597.7,117.2 601.9,117.4 608.8,116.0 598.6,125.8 618.7,116.7 620.5,119.2 611.9,127.2 618.7,126.9 612.1,133.2 606.2,138.8 623.3,134.4 620.9,138.5 612.4,144.5 612.3,147.3 618.1,148.2 625.5,149.0 627.2,151.5 619.9,156.1 634.3,156.0 629.6,159.9 611.6,165.5 611.4,168.0 624.1,169.2 634.2,171.2 628.9,174.4 621.9,177.5 620.6,180.2 620.7,182.8 634.2,186.1 628.6,188.7 614.3,190.1 616.4,192.9 619.0,195.9 635.7,201.5 625.9,202.6 631.6,206.8 620.6,207.1 626.5,211.6 622.6,213.4 615.3,214.0 619.6,218.3 609.7,217.5 630.1,228.7 618.7,227.1 602.2,222.4 615.0,231.6 612.2,233.3 599.7,229.4 603.0,234.2 598.9,234.7 601.2,239.2 606.2,245.9 587.9,235.9 600.0,248.2 587.0,241.1 591.1,247.7 599.2,258.5 598.4,261.6 578.6,246.0 577.9,248.6 583.3,258.0 579.0,257.0 581.8,264.3 582.0,268.9 575.2,264.3 576.0,270.0 579.5,280.0 571.4,272.9 570.9,277.2 575.9,291.7 564.5,277.1 565.3,284.7 558.7,277.5 564.2,296.3 557.0,287.0 553.6,286.2 549.3,282.6 548.9,290.0 549.6,301.8 543.6,292.1 539.1,285.8 537.4,290.7 535.5,295.2 530.1,280.8 530.4,300.3 525.0,281.1 524.2,298.3 521.7,304.4 518.2,294.2 515.0,278.3 512.5,296.8 509.6,300.9 506.6,300.9 503.4,304.2 502.0,287.3 499.4,286.5 494.6,300.9 492.1,297.3 493.3,276.7 488.1,288.7 482.5,299.6 478.2,304.0 477.9,294.1 475.7,291.2 478.9,273.9 467.0,297.9 466.3,291.4 464.1,289.2 464.2,282.1 461.6,281.0 464.0,270.6 454.0,283.2 449.6,284.9 451.6,276.1 446.0,279.5 448.0,271.5 446.7,268.7 445.0,266.5 442.6,265.1 437.7,266.6 433.1,267.5 433.8,262.6 432.6,259.9 421.8,266.2 434.7,250.5 415.3,263.8 428.2,249.2 420.4,251.9 418.2,249.9 418.7,246.1 413.9,245.9 417.2,240.3 415.4,238.2 414.1,235.8 414.1,232.6 413.6,229.8 412.8,227.2 399.5,230.1 409.6,222.7 407.5,220.5 408.4,217.3 408.4,214.4 389.0,217.5 396.9,212.0 402.8,207.6 396.4,206.2 398.5,202.8 403.4,199.0 402.0,196.5 396.7,194.4 403.0,190.9 401.7,188.3 386.1,186.3 402.7,182.8 393.9,180.2 404.6,177.5 390.7,174.2 400.4,171.9 405.7,169.7 403.5,166.7 402.2,163.8 399.2,160.5 394.8,156.8 408.4,156.8 394.8,150.8 390.3,146.4 411.9,149.7 395.8,141.7 411.3,144.0 395.8,135.3 395.9,132.0 405.0,132.6 410.0,131.8 415.9,131.7 411.1,126.1 408.9,121.6 417.6,123.4 414.4,118.2 414.9,115.1 427.1,120.2 429.2,118.5 428.8,115.0 439.6,120.5 433.6,112.2 425.1,101.1 437.6,109.0 440.7,108.5 438.9,103.1 438.6,98.8 442.3,98.9 443.3,96.1 440.6,88.2 449.2,95.1 455.1,98.9 448.2,84.2 449.8,81.4 453.2,81.5 463.4,93.7 461.8,85.5 460.1,76.2 468.1,86.5 467.0,77.7 467.5,71.9 472.3,76.0 473.4,71.2 480.2,82.4 476.3,61.1 481.9,69.9 485.7,73.3 487.4,68.4 489.9,66.6 492.9,67.4 494.1,56.5 499.9,77.7 501.8,71.8 504.3,69.2 507.6,79.7 510.0,78.3 512.5,56.5" fill="none" stroke="blue" stroke-width="1.25" stroke-linejoin="round"/>
<ellipse cx="512.54" cy="180.15" rx="136.00" ry="135.59" fill="none" stroke="#3c3c3c" stroke-width="1.0"/>
<rect x="594.4" y="48.2" width="50.4" height="36.4" rx="2" ry="2" fill="#fff" fill-opacity="0.8" stroke="#d9d9d9" stroke-width="0.8"/>
<line x1="596.3" y1="54.4" x2="612.9" y2="54.4" stroke="red" stroke-width="1.3"/>
<text x="618.16" y="57.40" font-size="7.90" font-weight="normal" fill="#262626" textLength="14.43" lengthAdjust="spacingAndGlyphs">Red</text>
<line x1="596.3" y1="66.0" x2="612.9" y2="66.0" stroke="green" stroke-width="1.3"/>
<text x="618.38" y="69.00" font-size="7.90" font-weight="normal" fill="#262626" textLength="23.37" lengthAdjust="spacingAndGlyphs">Green</text>
<line x1="596.3" y1="77.3" x2="612.9" y2="77.3" stroke="blue" stroke-width="1.3"/>
<text x="618.10" y="80.30" font-size="7.90" font-weight="normal" fill="#262626" textLength="17.09" lengthAdjust="spacingAndGlyphs">Blue</text>
<text x="437.35" y="25.40" font-size="9.75" font-weight="normal" fill="#262626" textLength="150.21" lengthAdjust="spacingAndGlyphs">Polar Histogram of Cipher Image</text>
<text x="505.10" y="351.20" font-size="13.20" font-weight="bold" fill="#000" textLength="18.30" lengthAdjust="spacingAndGlyphs">(b)</text>
</svg>
</body></html>
